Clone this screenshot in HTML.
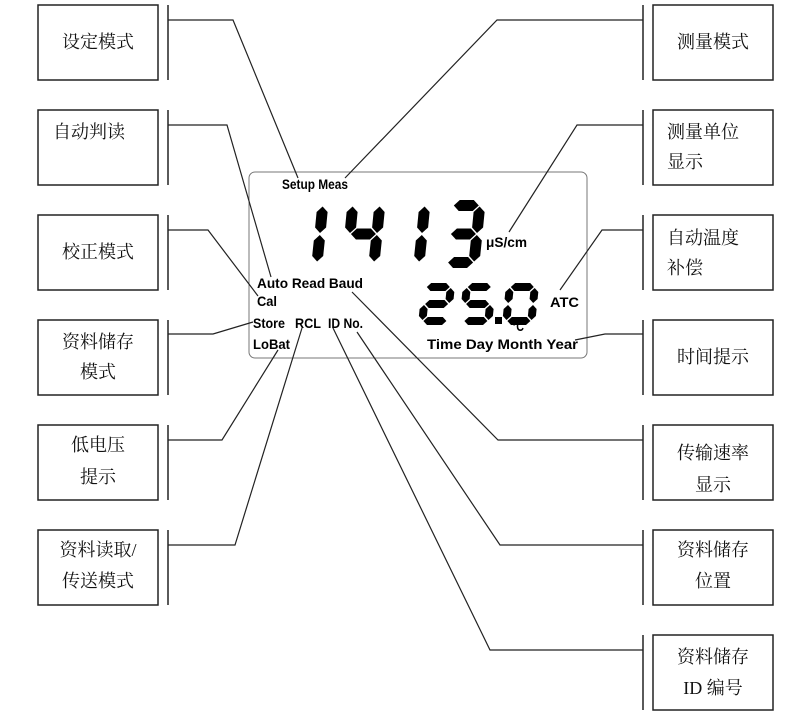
<!DOCTYPE html>
<html><head><meta charset="utf-8"><style>
html,body{margin:0;padding:0;background:#fff;}
svg{display:block;}
.cn{font-family:"Liberation Serif","Noto Serif CJK SC",serif;font-size:18px;fill:#111;}
.lb{font-family:"Liberation Sans",sans-serif;font-weight:bold;font-size:14px;fill:#000;}
</style></head><body>
<svg id="s" width="802" height="713" viewBox="0 0 802 713" xmlns="http://www.w3.org/2000/svg">
<g fill="#fff" stroke="#222" stroke-width="1.5">
<rect x="38" y="5" width="120" height="75"/>
<rect x="38" y="110" width="120" height="75"/>
<rect x="38" y="215" width="120" height="75"/>
<rect x="38" y="320" width="120" height="75"/>
<rect x="38" y="425" width="120" height="75"/>
<rect x="38" y="530" width="120" height="75"/>
<rect x="653" y="5" width="120" height="75"/>
<rect x="653" y="110" width="120" height="75"/>
<rect x="653" y="215" width="120" height="75"/>
<rect x="653" y="320" width="120" height="75"/>
<rect x="653" y="425" width="120" height="75"/>
<rect x="653" y="530" width="120" height="75"/>
<rect x="653" y="635" width="120" height="75"/>
</g>
<g stroke="#222" stroke-width="1.5">
<line x1="168" y1="5" x2="168" y2="80"/><line x1="168" y1="110" x2="168" y2="185"/>
<line x1="168" y1="215" x2="168" y2="290"/><line x1="168" y1="320" x2="168" y2="395"/>
<line x1="168" y1="425" x2="168" y2="500"/><line x1="168" y1="530" x2="168" y2="605"/>
<line x1="643" y1="5" x2="643" y2="80"/><line x1="643" y1="110" x2="643" y2="185"/>
<line x1="643" y1="215" x2="643" y2="290"/><line x1="643" y1="320" x2="643" y2="395"/>
<line x1="643" y1="425" x2="643" y2="500"/><line x1="643" y1="530" x2="643" y2="605"/>
<line x1="643" y1="635" x2="643" y2="710"/>
</g>
<rect x="249" y="172" width="338" height="186" rx="6" fill="none" stroke="#777" stroke-width="1"/>
<g fill="none" stroke="#222" stroke-width="1.2">
<polyline points="168,20 233,20 298,178"/>
<polyline points="643,20 497,20 345,178"/>
<polyline points="168,125 227,125 271,277"/>
<polyline points="643,125 577,125 509,232"/>
<polyline points="168,230 208,230 258,296"/>
<polyline points="643,230 602,230 560,290"/>
<polyline points="168,334 213,334 253,322"/>
<polyline points="643,334 605,334 575,340"/>
<polyline points="168,440 222,440 278,350"/>
<polyline points="643,440 498,440 352,292"/>
<polyline points="168,545 235,545 302,328"/>
<polyline points="643,545 500,545 357,332"/>
<polyline points="643,650 490,650 333,328"/>
</g>
<g class="cn">
<text x="98" y="48" text-anchor="middle">设定模式</text>
<text x="53" y="138">自动判读</text>
<text x="98" y="258" text-anchor="middle">校正模式</text>
<text x="98" y="348" text-anchor="middle">资料储存</text>
<text x="98" y="378" text-anchor="middle">模式</text>
<text x="98" y="451" text-anchor="middle">低电压</text>
<text x="98" y="483" text-anchor="middle">提示</text>
<text x="98" y="556" text-anchor="middle">资料读取/</text>
<text x="98" y="587" text-anchor="middle">传送模式</text>
<text x="713" y="48" text-anchor="middle">测量模式</text>
<text x="667" y="138">测量单位</text>
<text x="667" y="168">显示</text>
<text x="667" y="244">自动温度</text>
<text x="667" y="274">补偿</text>
<text x="713" y="363" text-anchor="middle">时间提示</text>
<text x="713" y="459" text-anchor="middle">传输速率</text>
<text x="713" y="491" text-anchor="middle">显示</text>
<text x="713" y="556" text-anchor="middle">资料储存</text>
<text x="713" y="587" text-anchor="middle">位置</text>
<text x="713" y="663" text-anchor="middle">资料储存</text>
<text x="713" y="694" text-anchor="middle">ID 编号</text>
</g>
<g class="lb">
<text x="282" y="189" textLength="66" lengthAdjust="spacingAndGlyphs">Setup Meas</text>
<text x="486" y="247" textLength="41" lengthAdjust="spacingAndGlyphs">μS/cm</text>
<text x="257" y="288" textLength="106" lengthAdjust="spacingAndGlyphs">Auto  Read  Baud</text>
<text x="257" y="306" textLength="20" lengthAdjust="spacingAndGlyphs">Cal</text>
<text x="253" y="328" textLength="32" lengthAdjust="spacingAndGlyphs">Store</text>
<text x="295" y="328" textLength="26" lengthAdjust="spacingAndGlyphs">RCL</text>
<text x="328" y="328" textLength="35" lengthAdjust="spacingAndGlyphs">ID No.</text>
<text x="253" y="349" textLength="37" lengthAdjust="spacingAndGlyphs">LoBat</text>
<text x="550" y="307" textLength="29" lengthAdjust="spacingAndGlyphs">ATC</text>
<text x="512" y="331" font-size="14" textLength="12" lengthAdjust="spacingAndGlyphs">°C</text>
<text x="427" y="349" textLength="151" lengthAdjust="spacingAndGlyphs">Time  Day  Month  Year</text>
</g>
<g id="dg" fill="#000"></g>
</svg>
<script>
(function(){
var g=document.getElementById('dg'),ns='http://www.w3.org/2000/svg';
var SEG={'1':'bc','4':'fgbc','3':'abgcd','2':'abged','5':'afgcd','0':'abcdef'};
function hseg(x1,x2,y,t){return [[x1,y],[x1+t/2,y-t/2],[x2-t/2,y-t/2],[x2,y],[x2-t/2,y+t/2],[x1+t/2,y+t/2]];}
function vseg(x,y1,y2,t){return [[x,y1],[x+t/2,y1+t/2],[x+t/2,y2-t/2],[x,y2],[x-t/2,y2-t/2],[x-t/2,y1+t/2]];}
function digit(ch,x,y,w,h,t,sk){
 var s=SEG[ch],m=y+h/2,L=x+t/2,R=x+w-t/2,T=y+t/2,B=y+h-t/2,gap=1;
 var segs={a:hseg(L+gap,R-gap,T,t),g:hseg(L+gap,R-gap,m,t),d:hseg(L+gap,R-gap,B,t),
 f:vseg(L,T+gap,m-gap,t),b:vseg(R,T+gap,m-gap,t),e:vseg(L,m+gap,B-gap,t),c:vseg(R,m+gap,B-gap,t)};
 for(var i=0;i<s.length;i++){var p=segs[s[i]];
  var pts=p.map(function(q){return (q[0]+(y+h-q[1])*sk).toFixed(1)+','+q[1].toFixed(1);}).join(' ');
  var e=document.createElementNS(ns,'polygon');e.setAttribute('points',pts);g.appendChild(e);}
}
var sk=0.1;
digit('1',284,200,38,68,11,sk);
digit('4',341,200,38,68,11,sk);
digit('1',386,200,38,68,11,sk);
digit('3',441,200,38,68,11,sk);
digit('2',418,283,33,42,8,sk);
digit('5',459,283,33,42,8,sk);
digit('0',502,283,33,42,8,sk);
var r=document.createElementNS(ns,'rect');r.setAttribute('x','495');r.setAttribute('y','317');r.setAttribute('width','7');r.setAttribute('height','7');g.appendChild(r);
})();
</script>
</body></html>
